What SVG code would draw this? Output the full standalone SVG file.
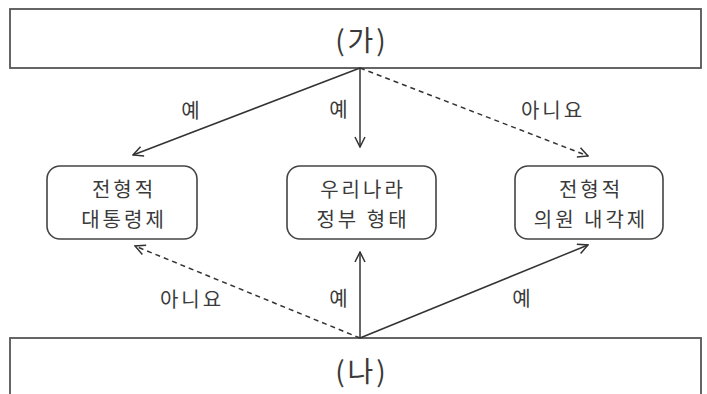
<svg xmlns="http://www.w3.org/2000/svg" width="707" height="394" viewBox="0 0 707 394">
<style>
.bar{fill:#fff;stroke:#555;stroke-width:1.8}
.node{fill:#fff;stroke:#444;stroke-width:1.6}
.t{font-family:"Noto Sans CJK KR","Noto Sans",sans-serif;fill:#3a3a3a;text-anchor:middle;dominant-baseline:central}
.nt{font-size:20px;letter-spacing:3px}
.lb{font-size:20px;letter-spacing:3px}
.big{font-size:28px;letter-spacing:3px}
.c{stroke:#333;stroke-width:1.5;fill:none}
.d{stroke-dasharray:5 4}
</style>
<defs>
<marker id="ah" viewBox="0 0 12 12" refX="11" refY="6" markerWidth="12" markerHeight="12" markerUnits="userSpaceOnUse" orient="auto">
<path d="M1,1 L11,6 L1,11" fill="none" stroke="#333" stroke-width="1.5"/>
</marker>
</defs>
<rect width="707" height="394" fill="#fff"/>
<g id="top">
<rect class="bar" x="10" y="9" width="691" height="59"/>
<text class="t big" x="362" y="39">(가)</text>
</g>
<g id="bottom">
<rect class="bar" x="10" y="338" width="691" height="70"/>
<text class="t big" x="362" y="370">(나)</text>
</g>
<g id="n1">
<rect class="node" x="47" y="166" width="150" height="73" rx="13"/>
<text class="t nt" x="124" y="188.5">전형적</text>
<text class="t nt" x="124" y="218.5">대통령제</text>
</g>
<g id="n2">
<rect class="node" x="287" y="166" width="149" height="73" rx="13"/>
<text class="t nt" x="363" y="188.5">우리나라</text>
<text class="t nt" x="363" y="218.5">정부 형태</text>
</g>
<g id="n3">
<rect class="node" x="515" y="166" width="148" height="73" rx="13"/>
<text class="t nt" x="591" y="188.5">전형적</text>
<text class="t nt" x="591" y="218.5">의원 내각제</text>
</g>
<g id="connectors">
<line class="c" x1="360" y1="68" x2="133" y2="155" marker-end="url(#ah)"/>
<line class="c" x1="360" y1="68" x2="360" y2="147" marker-end="url(#ah)"/>
<line class="c d" x1="360" y1="68" x2="588" y2="156" marker-end="url(#ah)"/>
<line class="c d" x1="360" y1="338" x2="135" y2="246" marker-end="url(#ah)"/>
<line class="c" x1="360" y1="338" x2="360" y2="252" marker-end="url(#ah)"/>
<line class="c" x1="360" y1="338" x2="588" y2="245" marker-end="url(#ah)"/>
<text class="t lb" x="192" y="109">예</text>
<text class="t lb" x="340" y="108">예</text>
<text class="t lb" x="553" y="109">아니요</text>
<text class="t lb" x="192" y="298">아니요</text>
<text class="t lb" x="340" y="297">예</text>
<text class="t lb" x="523" y="297">예</text>
</g>
</svg>
